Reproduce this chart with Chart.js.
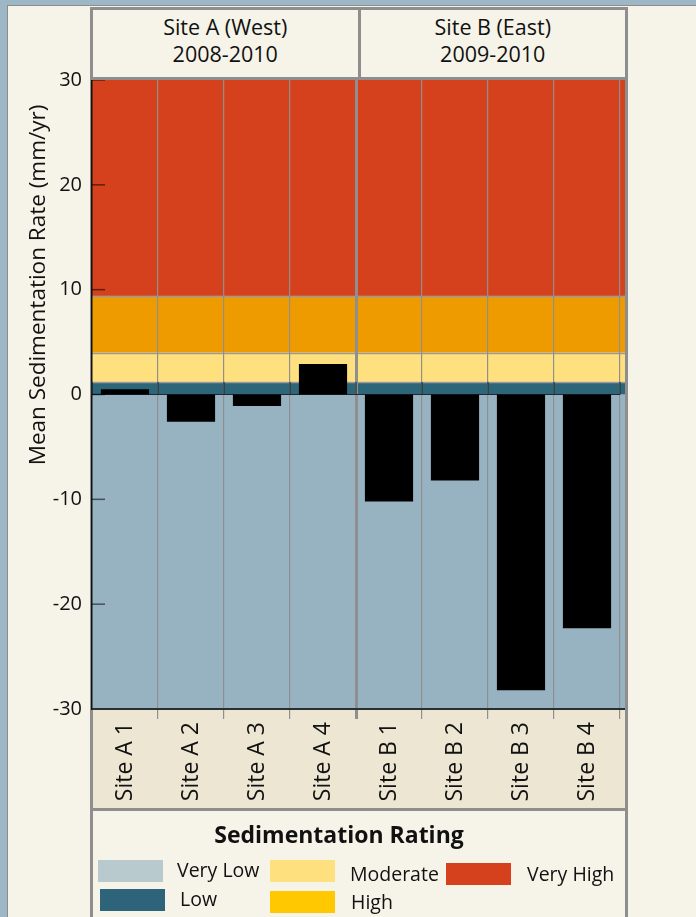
<!DOCTYPE html>
<html><head><meta charset="utf-8">
<script src="https://cdn.jsdelivr.net/npm/chart.js@4.4.1/dist/chart.umd.min.js"></script>
<style>
html,body{margin:0;padding:0;}
body{width:696px;height:917px;background:#9db7c6;position:relative;overflow:hidden;font-family:"Open Sans",sans-serif;color:#111;}
.abs{position:absolute;box-sizing:border-box;}
#panel{left:7px;top:5px;width:689px;height:912px;background:#f6f3e8;border-left:1px solid #8c8c8c;border-top:1px solid #8c8c8c;}
#band{left:92px;top:709px;width:535px;height:101px;background:#ede6d3;}
.vline{background:#8e8e8e;width:3px;top:7px;height:910px;}
#header{left:90px;top:7px;width:538px;height:73px;border:3px solid #8e8e8e;background:#f6f3e8;display:flex;z-index:3;}
#header div{flex:1;text-align:center;font-size:21.5px;line-height:27px;padding-top:3px;}
#header div:first-child{border-right:3px solid #8e8e8e;}
#legend{left:90px;top:808px;width:538px;height:120px;border-top:3px solid #8e8e8e;z-index:3;}
#ytitle{left:37px;top:285px;width:440px;height:26px;margin-left:-220px;margin-top:-13px;transform:rotate(-90deg);text-align:center;font-size:22.5px;line-height:26px;white-space:nowrap;z-index:3;}
#chartwrap{left:0;top:0;width:696px;height:917px;z-index:2;}
#rline{left:625px;z-index:4;}
.sw{position:absolute;width:65px;height:22px;}
.lt{position:absolute;font-size:19.5px;line-height:22px;white-space:nowrap;}
#ltitle{position:absolute;left:49px;width:400px;text-align:center;top:9px;font-weight:700;font-size:23px;line-height:28px;}
</style></head>
<body>
<div id="panel" class="abs"></div>
<div id="band" class="abs"></div>
<div class="abs vline" style="left:90px"></div>
<div id="chartwrap" class="abs"><canvas id="c" width="696" height="917"></canvas></div>
<div id="rline" class="abs vline"></div>
<div id="header" class="abs"></div>
<div id="ytitle" class="abs"></div>
<div id="legend" class="abs"></div>
<script>
// ---- data ----
const categories = ['Site A 1','Site A 2','Site A 3','Site A 4','Site B 1','Site B 2','Site B 3','Site B 4'];
const rates = [0.5, -2.6, -1.1, 2.9, -10.2, -8.2, -28.2, -22.3];
const yTicks = [-30, -20, -10, 0, 10, 20, 30];
const groupNames = ['Site A (West)', 'Site B (East)'];
const groupYears = ['2008-2010', '2009-2010'];
const yTitle = 'Mean Sedimentation Rate (mm/yr)';
const legendTitle = 'Sedimentation Rating';
const bandNames = ['Very Low', 'Low', 'Moderate', 'High', 'Very High'];
const bandEdges = [-30, 0, 1.2, 4, 9.4, 30];
const plotBandColors = ['#97b2c1', '#2d6579', '#ffe07f', '#ee9b00', '#d4411c'];
const legendColors = ['#b8cace', '#2e6479', '#ffe07f', '#ffc800', '#d4411c'];

// ---- html text ----
const hdr = document.getElementById('header');
groupNames.forEach((g,i)=>{const d=document.createElement('div');d.innerHTML=g+'<br>'+groupYears[i];hdr.appendChild(d);});
document.getElementById('ytitle').textContent = yTitle;
const lg = document.getElementById('legend');
const lt = document.createElement('div'); lt.id='ltitle'; lt.textContent=legendTitle; lg.appendChild(lt);
// legend layout: [swatch left, swatch top, text left, text top] relative to legend box
const legendPos = [[8,49,87,48],[10,78,90,77],[180,49,260,52],[180,80,261,80],[356,52,437,52]];
bandNames.forEach((n,i)=>{
  const p=legendPos[i];
  const s=document.createElement('div'); s.className='sw'; s.style.left=p[0]+'px'; s.style.top=p[1]+'px'; s.style.background=legendColors[i]; lg.appendChild(s);
  const t=document.createElement('div'); t.className='lt'; t.style.left=p[2]+'px'; t.style.top=p[3]+'px'; t.textContent=n; lg.appendChild(t);
});

// ---- chart ----
const EXTRA_RIGHT = 7;
const bandPlugin = {
  id: 'bands',
  beforeDraw(chart) {
    const {ctx, chartArea: a, scales: {y}} = chart;
    const right = a.right + EXTRA_RIGHT;
    ctx.save();
    for (let i = 0; i < bandNames.length; i++) {
      const top = y.getPixelForValue(bandEdges[i+1]);
      const bot = y.getPixelForValue(bandEdges[i]);
      ctx.fillStyle = plotBandColors[i];
      ctx.fillRect(a.left, top, right - a.left, bot - top);
    }
    ctx.strokeStyle = '#9a9a9a'; ctx.lineWidth = 1.5;
    for (let i = 2; i < bandEdges.length - 1; i++) {
      const py = Math.round(y.getPixelForValue(bandEdges[i])) + 0.5;
      ctx.beginPath(); ctx.moveTo(a.left, py); ctx.lineTo(right, py); ctx.stroke();
    }
    ctx.restore();
  },
  beforeDatasetsDraw(chart) {
    const {ctx, chartArea: a, scales: {x, y}} = chart;
    ctx.save();
    const y0 = y.getPixelForValue(0), y1 = y.getPixelForValue(bandEdges[2]);
    ctx.strokeStyle = '#1e2a30'; ctx.lineWidth = 1.2;
    ctx.beginPath(); ctx.moveTo(a.left, y0); ctx.lineTo(a.right, y0); ctx.stroke();
    for (let i = 0; i <= categories.length; i++) {
      const px = x.getPixelForValue(i - 0.5);
      ctx.beginPath(); ctx.moveTo(px, y0); ctx.lineTo(px, y1); ctx.stroke();
    }
    ctx.strokeStyle = 'rgba(0,0,0,0.55)'; ctx.lineWidth = 1.5;
    yTicks.forEach(v => {
      const py = y.getPixelForValue(v);
      ctx.beginPath(); ctx.moveTo(a.left, py); ctx.lineTo(a.left + 13, py); ctx.stroke();
    });
    ctx.restore();
  },
  afterDraw(chart) {
    const {ctx, chartArea: a} = chart;
    ctx.save();
    ctx.strokeStyle = '#2a2f33'; ctx.lineWidth = 2;
    ctx.beginPath(); ctx.moveTo(a.left, a.bottom); ctx.lineTo(a.right + EXTRA_RIGHT, a.bottom); ctx.stroke();
    ctx.restore();
  }
};

new Chart(document.getElementById('c'), {
  type: 'bar',
  data: {
    labels: categories,
    datasets: [{
      label: yTitle,
      data: rates,
      backgroundColor: '#000',
      borderWidth: 0,
      barPercentage: 0.73,
      categoryPercentage: 1
    }]
  },
  options: {
    responsive: false,
    animation: false,
    devicePixelRatio: 1,
    layout: { padding: { left: 0, top: 80, right: 76, bottom: 108 } },
    plugins: { legend: { display: false }, tooltip: { enabled: false } },
    scales: {
      x: {
        offset: true,
        grid: {
          offset: true,
          display: true,
          drawOnChartArea: true,
          drawTicks: true,
          tickLength: 10,
          color: ctx => (ctx.index === 0 || ctx.index === categories.length) ? 'rgba(0,0,0,0)' : '#8f8f8f',
          lineWidth: ctx => ctx.index === categories.length / 2 ? 3 : 1.2
        },
        border: { display: false },
        ticks: {
          minRotation: 90, maxRotation: 90, autoSkip: false, padding: 3,
          color: '#111', font: { family: 'Open Sans', size: 23 }
        },
        afterFit: s => { s.height = 100; }
      },
      y: {
        min: -30, max: 30,
        afterBuildTicks: s => { s.ticks = yTicks.map(v => ({ value: v })); },
        grid: { display: false, drawTicks: false },
        border: { display: true, color: '#111', width: 1.5 },
        ticks: { padding: 10, color: '#111', font: { family: 'Open Sans', size: 20 } },
        afterFit: s => { s.width = 92; }
      }
    }
  },
  plugins: [bandPlugin]
});
</script>
</body></html>
